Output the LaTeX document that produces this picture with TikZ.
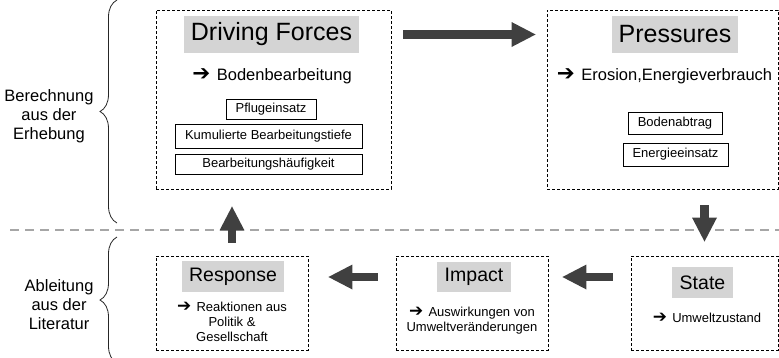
\documentclass[tikz,border=0pt]{standalone}
\usepackage{fontspec}
\setmainfont{Liberation Sans}
\newfontfamily\symfont{DejaVu Sans}
\usetikzlibrary{arrows.meta,decorations.pathreplacing}

\newcommand{\pfeil}{{\symfont\scalebox{1.3}{➔}}\hspace{0.4em}}

\begin{document}
\begin{tikzpicture}[x=1pt, y=-1pt,
    rahmen/.style={draw, dash pattern=on 3pt off 2pt, line width=0.9pt, inner sep=0pt},
    titel/.style={fill=black!17, inner sep=0pt},
    kasten/.style={draw, line width=0.8pt, inner sep=0pt, font=\fontsize{13}{15}\selectfont},
    testo/.style={align=center, font=\fontsize{13}{15}\selectfont},
    seite/.style={align=center, anchor=east, font=\fontsize{16.5}{19}\selectfont},
    freccia/.style={draw=black!75, line width=8.5pt,
        -{Triangle[length=24pt, width=25pt, line width=0pt]}},
    graffa/.style={decorate, decoration={brace, amplitude=17pt}, line width=0.8pt, black!85},
    trenn/.style={draw=black!35, line width=2pt, dash pattern=on 9pt off 6pt}]

    \useasboundingbox (0,0) rectangle (779,357);

    % Linea di separazione
    \draw[trenn] (10,230) -- (779,230);

    % Riquadri superiori
    \node[rahmen, minimum width=235pt, minimum height=179pt] (drv) at (273.5,99.5) {};
    \node[rahmen, minimum width=231pt, minimum height=179pt] (prs) at (662.5,99.5) {};

    % Riquadri inferiori
    \node[rahmen, minimum width=152pt, minimum height=94pt] (rsp) at (232,303) {};
    \node[rahmen, minimum width=152pt, minimum height=94pt] (imp) at (472,303) {};
    \node[rahmen, minimum width=147pt, minimum height=94pt] (stt) at (704.5,303) {};

    % Titoli
    \node[titel, minimum width=175pt, minimum height=37pt, font=\fontsize{25}{30}\selectfont]
        (drvT) at (271.5,34.5) {Driving Forces};
    \node[titel, minimum width=126pt, minimum height=37pt, font=\fontsize{25}{30}\selectfont]
        (prsT) at (675,34.5) {Pressures};
    \node[titel, minimum width=102pt, minimum height=31pt, font=\fontsize{19.5}{23}\selectfont]
        (rspT) at (233,276.5) {Response};
    \node[titel, minimum width=74pt, minimum height=30pt, font=\fontsize{19.5}{23}\selectfont]
        (impT) at (474,277) {Impact};
    \node[titel, minimum width=61pt, minimum height=31pt, font=\fontsize{19.5}{23}\selectfont]
        (sttT) at (702.5,282.5) {State};

    % Driving Forces
    \node[font=\fontsize{16.5}{19}\selectfont] (bod) at (272,76) {\pfeil Bodenbearbeitung};
    \node[kasten, minimum width=90pt, minimum height=20pt] (pfl) at (271,109) {Pflugeinsatz};
    \node[kasten, minimum width=187pt, minimum height=24pt] (kum) at (268.5,136) {Kumulierte Bearbeitungstiefe};
    \node[kasten, minimum width=187pt, minimum height=20pt] (hfk) at (268.5,164) {Bearbeitungshäufigkeit};

    % Pressures
    \node[font=\fontsize{16.5}{19}\selectfont] (ero) at (664.5,76) {\pfeil Erosion,Energieverbrauch};
    \node[kasten, minimum width=94pt, minimum height=22pt] (abt) at (675,123) {Bodenabtrag};
    \node[kasten, minimum width=105pt, minimum height=23pt] (ein) at (675.5,154.5) {Energieeinsatz};

    % Testi inferiori
    \node[testo] (rea) at (232,322) {\pfeil Reaktionen aus\\Politik \&\\Gesellschaft};
    \node[testo] (ausw) at (472,320.5) {\pfeil Auswirkungen von\\Umweltveränderungen};
    \node[testo] (uwz) at (707,318) {\pfeil Umweltzustand};

    % Frecce
    \draw[freccia, shorten <=12pt, shorten >=11pt] (drvT -| drv.east) -- (drvT -| prs.west);
    \draw[freccia, shorten <=16pt, shorten >=14pt] (stt.north |- prs.south) -- (stt.north);
    \draw[freccia, shorten <=18pt, shorten >=14pt] (impT -| stt.west) -- (impT -| imp.east);
    \draw[freccia, shorten <=18pt, shorten >=20pt] (impT -| imp.west) -- (impT -| rsp.east);
    \draw[freccia, shorten <=13pt, shorten >=17pt] (rsp.north) -- (rsp.north |- drv.south);

    % Graffe e descrizioni
    \draw[graffa] (117,223) -- (117,0);
    \draw[graffa] (117,363) -- (117,237);
    \node[seite] (erh) at (97,116.5) {Berechnung\\aus der\\Erhebung};
    \node[seite] (lit) at (97,305) {Ableitung\\aus der\\Literatur};

\end{tikzpicture}
\end{document}
